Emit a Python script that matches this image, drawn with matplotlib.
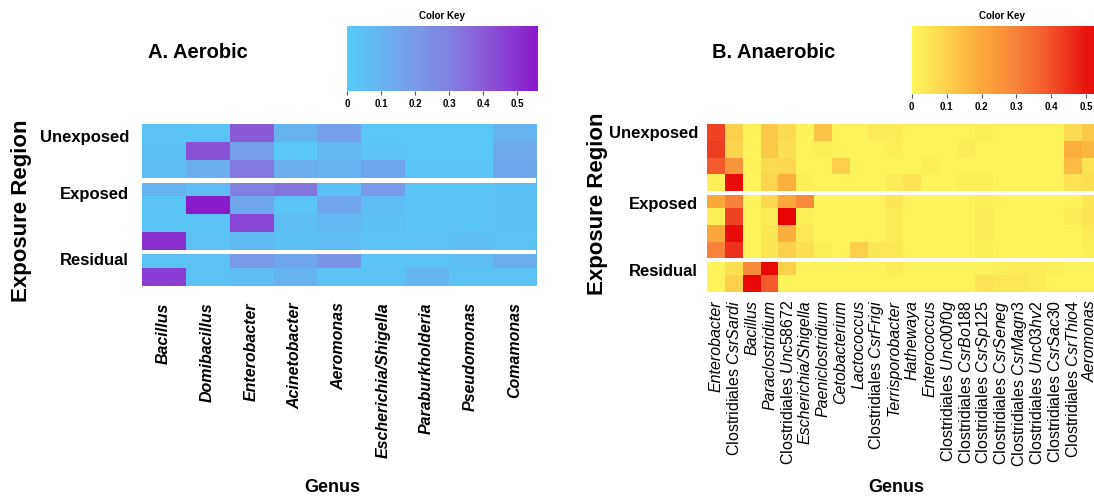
import numpy as np
import matplotlib
matplotlib.use("Agg")
import matplotlib.pyplot as plt
from matplotlib.colors import LinearSegmentedColormap

plt.rcParams['font.family'] = ['Liberation Sans', 'DejaVu Sans']
plt.rcParams['mathtext.fontset'] = 'custom'
plt.rcParams['mathtext.rm'] = 'Liberation Sans'
plt.rcParams['mathtext.it'] = 'Liberation Sans:italic'
plt.rcParams['mathtext.bf'] = 'Liberation Sans:bold'

# ---------------- data ----------------
aerobic_genera = ["Bacillus", "Domibacillus", "Enterobacter", "Acinetobacter", "Aeromonas",
                  "Escherichia/Shigella", "Paraburkholderia", "Pseudomonas", "Comamonas"]
aerobic_groups = ["Unexposed", "Exposed", "Residual"]
aerobic_group_sizes = [3, 4, 2]
aerobic_values = [
    [0.04, 0.03, 0.40, 0.10, 0.18, 0.02, 0.02, 0.02, 0.10],
    [0.05, 0.42, 0.18, 0.02, 0.08, 0.03, 0.02, 0.02, 0.14],
    [0.06, 0.12, 0.32, 0.12, 0.10, 0.15, 0.03, 0.03, 0.15],
    [0.10, 0.06, 0.30, 0.33, 0.05, 0.20, 0.03, 0.03, 0.05],
    [0.03, 0.55, 0.15, 0.03, 0.15, 0.06, 0.03, 0.03, 0.05],
    [0.03, 0.03, 0.45, 0.06, 0.08, 0.05, 0.03, 0.03, 0.05],
    [0.50, 0.04, 0.07, 0.05, 0.06, 0.04, 0.04, 0.06, 0.04],
    [0.04, 0.04, 0.20, 0.15, 0.22, 0.03, 0.04, 0.06, 0.12],
    [0.47, 0.04, 0.06, 0.10, 0.04, 0.04, 0.09, 0.04, 0.04],
]

anaerobic_genera = ["Enterobacter", "Clostridiales CsrSardi", "Bacillus", "Paraclostridium",
                    "Clostridiales Unc58672", "Escherichia/Shigella", "Paeniclostridium",
                    "Cetobacterium", "Lactococcus", "Clostridiales CsrFrigi", "Terrisporobacter",
                    "Hathewaya", "Enterococcus", "Clostridiales Unc00f0g", "Clostridiales CsrBo188",
                    "Clostridiales CsrSp125", "Clostridiales CsrSeneg", "Clostridiales CsrMagn3",
                    "Clostridiales Unc03hv2", "Clostridiales CsrSac30", "Clostridiales CsrThio4",
                    "Aeromonas"]
anaerobic_groups = ["Unexposed", "Exposed", "Residual"]
anaerobic_group_sizes = [4, 4, 2]
anaerobic_values = [
    [0.42, 0.10, 0.01, 0.12, 0.07, 0.01, 0.13, 0.01, 0.01, 0.03, 0.03, 0.01, 0.01, 0.01, 0.01, 0.02, 0.01, 0.01, 0.01, 0.01, 0.07, 0.12],
    [0.43, 0.09, 0.01, 0.12, 0.06, 0.01, 0.02, 0.01, 0.01, 0.01, 0.02, 0.01, 0.01, 0.01, 0.03, 0.01, 0.01, 0.01, 0.01, 0.01, 0.18, 0.16],
    [0.38, 0.25, 0.01, 0.07, 0.08, 0.01, 0.01, 0.10, 0.01, 0.01, 0.01, 0.01, 0.02, 0.01, 0.01, 0.01, 0.01, 0.01, 0.01, 0.01, 0.15, 0.05],
    [0.02, 0.52, 0.01, 0.09, 0.18, 0.02, 0.01, 0.01, 0.01, 0.01, 0.03, 0.05, 0.01, 0.01, 0.02, 0.02, 0.01, 0.01, 0.01, 0.01, 0.05, 0.06],
    [0.20, 0.30, 0.01, 0.08, 0.20, 0.28, 0.01, 0.01, 0.01, 0.01, 0.04, 0.01, 0.01, 0.01, 0.01, 0.02, 0.01, 0.01, 0.01, 0.01, 0.01, 0.04],
    [0.02, 0.42, 0.01, 0.03, 0.55, 0.02, 0.01, 0.01, 0.01, 0.01, 0.03, 0.01, 0.01, 0.01, 0.01, 0.03, 0.01, 0.01, 0.01, 0.01, 0.03, 0.05],
    [0.20, 0.52, 0.01, 0.04, 0.18, 0.04, 0.01, 0.01, 0.01, 0.01, 0.03, 0.01, 0.01, 0.01, 0.01, 0.03, 0.01, 0.01, 0.01, 0.01, 0.01, 0.03],
    [0.30, 0.45, 0.01, 0.04, 0.10, 0.06, 0.02, 0.01, 0.10, 0.04, 0.04, 0.01, 0.01, 0.01, 0.01, 0.02, 0.01, 0.01, 0.01, 0.01, 0.01, 0.02],
    [0.01, 0.06, 0.28, 0.53, 0.10, 0.01, 0.01, 0.01, 0.01, 0.01, 0.03, 0.01, 0.01, 0.01, 0.01, 0.01, 0.02, 0.03, 0.03, 0.02, 0.01, 0.01],
    [0.01, 0.10, 0.53, 0.38, 0.01, 0.01, 0.01, 0.01, 0.01, 0.01, 0.01, 0.01, 0.01, 0.01, 0.01, 0.05, 0.04, 0.04, 0.03, 0.01, 0.01, 0.01],
]

cbar_ticks = [0, 0.1, 0.2, 0.3, 0.4, 0.5]
cbar_ticklabels = ["0", "0.1", "0.2", "0.3", "0.4", "0.5"]
vmax = 0.56

cmap_a = LinearSegmentedColormap.from_list(
    "aer", [(0.0, "#55CCF8"), (0.36, "#7A9AE8"), (0.54, "#8280E0"),
            (0.71, "#8A5CD8"), (1.0, "#8A18CC")])
cmap_b = LinearSegmentedColormap.from_list(
    "anaer", [(0.0, "#FFF75C"), (0.18, "#FDD04C"), (0.36, "#FBA83A"), (0.54, "#F8823A"),
              (0.71, "#F2522A"), (0.89, "#E81510"), (1.0, "#E80000")])

W, H = 1094, 499
fig = plt.figure(figsize=(W / 100, H / 100), dpi=100)


def fx(px):
    return px / W


def fy(py):
    return 1 - py / H


def heat_panel(rect, values, genera, groups, sizes, cmap, label_pos, sep_frac,
               tick_pad, tick_bold, grp_label_x_off):
    ax = fig.add_axes(rect)
    arr = np.array(values)
    nr, nc = arr.shape
    im = ax.imshow(arr, cmap=cmap, vmin=0, vmax=vmax, aspect='auto',
                   extent=(0, nc, nr, 0), interpolation='nearest')
    ax.set_xlim(0, nc)
    ax.set_ylim(nr, 0)
    b = 0
    for s in sizes[:-1]:
        b += s
        ax.axhspan(b, b + sep_frac, color='white', lw=0)
    for sp in ax.spines.values():
        sp.set_visible(False)
    ax.set_yticks([])
    ax.set_xticks(np.arange(nc) + 0.5)
    disp = []
    for g in genera:
        if g.startswith("Clostridiales "):
            disp.append("Clostridiales $\\mathit{" + g.split(" ", 1)[1] + "}$")
        else:
            disp.append(g)
    ax.set_xticklabels(disp, rotation=90, fontsize=11.5,
                       fontweight='bold' if tick_bold else 'normal')
    for t, g in zip(ax.get_xticklabels(), genera):
        if not g.startswith("Clostridiales "):
            t.set_fontstyle('italic')
    ax.tick_params(axis='x', length=0, pad=tick_pad)
    for name, yp in zip(groups, label_pos):
        ax.text(grp_label_x_off, yp, name, transform=ax.get_yaxis_transform(),
                ha='right', va='center', fontsize=12, fontweight='bold')
    return ax, im


# Panel A
axA, imA = heat_panel([fx(141.7), fy(285.7), fx(536.3 - 141.7), (285.7 - 124.3) / H],
                      aerobic_values, aerobic_genera, aerobic_groups, aerobic_group_sizes,
                      cmap_a, [0.75, 3.9, 7.6], 0.26, 12, True, -0.032)
# Panel B
axB, imB = heat_panel([fx(707.3), fy(291.7), fx(22 * 17.83), (291.7 - 124) / H],
                      anaerobic_values, anaerobic_genera, anaerobic_groups, anaerobic_group_sizes,
                      cmap_b, [0.55, 4.8, 8.8], 0.24, 6, False, -0.024)

# Titles
fig.text(fx(148), fy(53), "A. Aerobic", fontsize=14.5, fontweight='bold', ha='left', va='center')
fig.text(fx(712), fy(53), "B. Anaerobic", fontsize=14.5, fontweight='bold', ha='left', va='center')

# Axis labels
fig.text(fx(22), fy(211), "Exposure Region", rotation=90, fontsize=16, fontweight='bold',
         ha='center', va='center')
fig.text(fx(598), fy(204), "Exposure Region", rotation=90, fontsize=16, fontweight='bold',
         ha='center', va='center')
fig.text(fx(332), fy(488), "Genus", fontsize=13, fontweight='bold', ha='center', va='center')
fig.text(fx(896), fy(488), "Genus", fontsize=13, fontweight='bold', ha='center', va='center')


def color_key(rect, im, title_x):
    cax = fig.add_axes(rect)
    cb = fig.colorbar(im, cax=cax, orientation='horizontal', ticks=cbar_ticks)
    cb.outline.set_visible(False)
    cb.ax.set_xticklabels(cbar_ticklabels, fontsize=7, fontweight='bold')
    cb.ax.tick_params(axis='x', length=3, width=0.8, pad=3, color='#555555')
    fig.text(title_x, fy(16), "Color Key", fontsize=7, fontweight='bold', ha='center', va='center')
    return cb


color_key([fx(347.3), fy(90.7), fx(vmax * 340), (90.7 - 26) / H], imA, fx(442))
color_key([fx(911.7), fy(94), fx(vmax * 349), (94 - 26) / H], imB, fx(1002))

fig.savefig("out.png", dpi=100)
